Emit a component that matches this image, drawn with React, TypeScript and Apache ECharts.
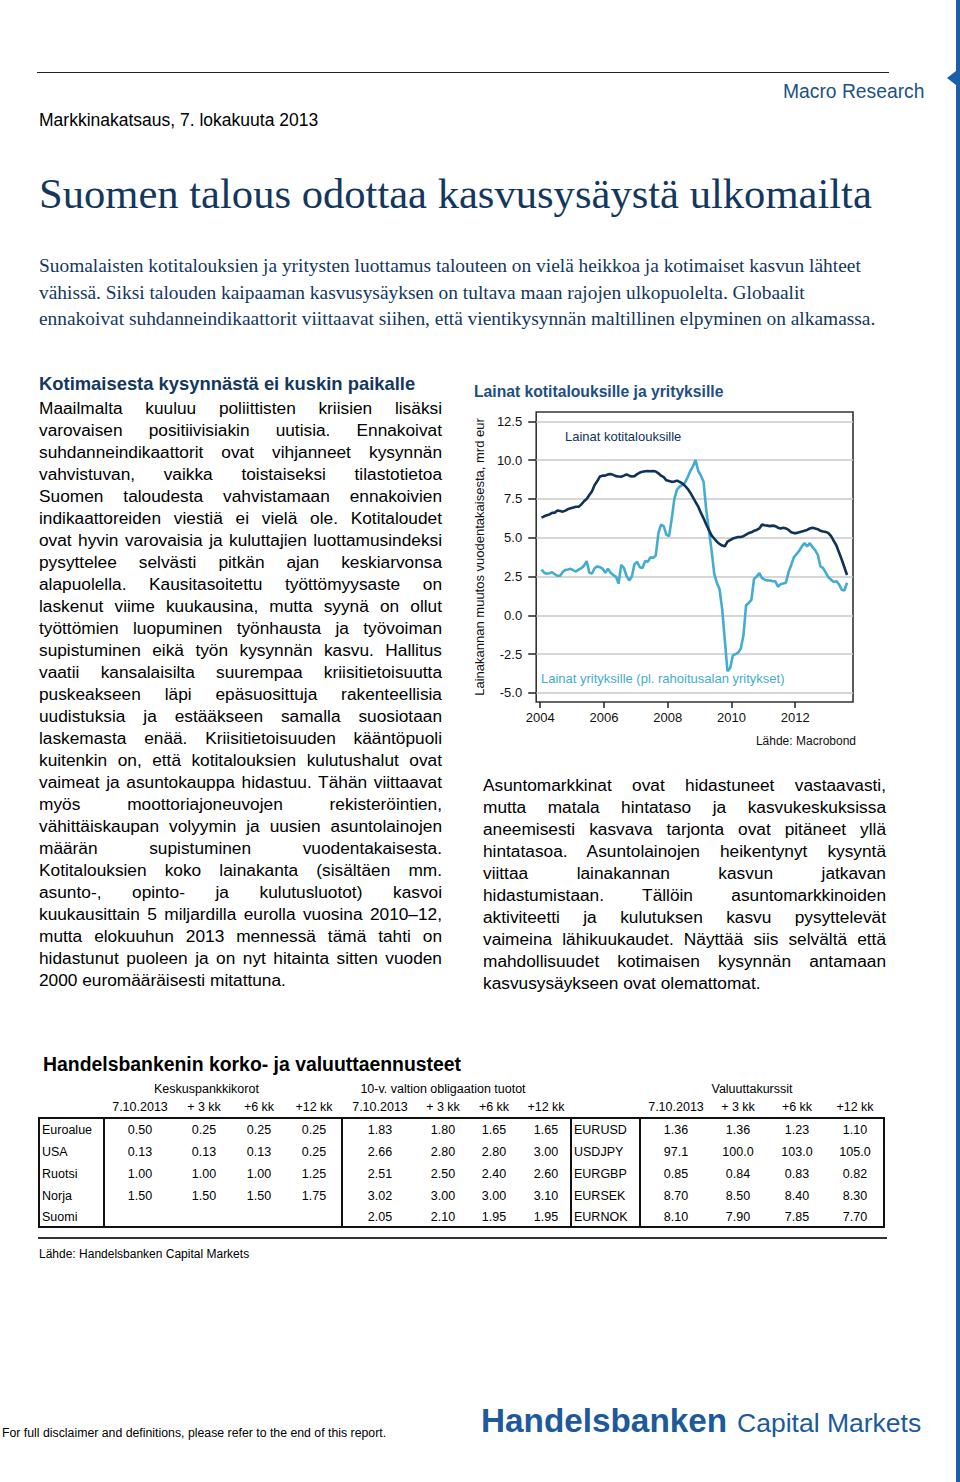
import React, { useEffect, useRef } from "react";
import * as echarts from "echarts";

// ---------- DATA ----------
const startYear = 2004;
// Monthly values, Jan 2004 – Aug 2013 (mrd eur, change from a year earlier)
const householdLoans = [
  6.3, 6.38, 6.45, 6.5, 6.6, 6.62, 6.75, 6.72, 6.68, 6.75, 6.85, 6.9,
  6.95, 7.0, 7.0, 7.15, 7.35, 7.5, 7.75, 8.0, 8.4, 8.65, 8.95, 9.0,
  9.0, 9.08, 9.1, 9.05, 8.97, 8.95, 8.93, 9.0, 9.08, 9.0, 8.95, 8.97,
  9.1, 9.2, 9.25, 9.28, 9.3, 9.28, 9.3, 9.27, 9.15, 9.0, 8.9, 8.7,
  8.65, 8.6, 8.62, 8.68, 8.6, 8.5, 8.35, 8.15, 7.9, 7.6, 7.3, 7.0,
  6.6, 6.25, 5.85, 5.5, 5.15, 4.95, 4.75, 4.6, 4.5, 4.45, 4.75, 4.85,
  4.95, 5.0, 5.05, 5.05, 5.1, 5.2, 5.3, 5.35, 5.45, 5.5, 5.6, 5.85,
  5.8, 5.78, 5.75, 5.78, 5.75, 5.65, 5.6, 5.65, 5.6, 5.5, 5.35, 5.3,
  5.3, 5.35, 5.4, 5.45, 5.5, 5.6, 5.65, 5.6, 5.55, 5.45, 5.4, 5.38,
  5.3, 5.1, 4.8, 4.5, 4.05, 3.6, 3.1, 2.6,
];
const firmLoans = [
  2.95, 2.75, 2.68, 2.72, 2.78, 2.65, 2.55, 2.55, 2.8, 2.93, 2.95, 3.0,
  2.9, 2.83, 2.95, 3.04, 3.2, 3.5, 2.75, 2.7, 3.05, 3.15, 3.1, 3.0,
  2.75, 3.0, 2.75, 2.6, 2.5, 2.05, 3.25, 3.05, 2.55, 2.25, 2.5, 3.3,
  3.45, 3.1, 3.05, 3.5, 3.45, 3.75, 3.7, 3.85, 5.3, 5.85, 5.75, 5.2,
  5.1, 6.2, 7.5, 8.1, 8.3, 8.4, 8.55, 8.9, 9.3, 9.6, 10.0, 9.3,
  9.0, 8.6, 6.8, 5.5, 4.2, 2.7, 2.1, 1.7, 0.4, -1.6, -3.6, -3.4,
  -2.6, -2.5, -2.4, -2.15, -1.3, 0.65, 0.8, 1.0, 2.35, 2.5, 2.72, 2.4,
  2.3, 2.25, 2.25, 2.2, 2.2, 1.85, 2.0, 2.05, 2.1, 2.8, 3.25, 3.75,
  3.95, 4.15, 4.45, 4.65, 4.45, 4.65, 4.4, 4.2, 3.9, 3.15, 3.05, 2.75,
  2.45, 2.3, 2.15, 2.2, 2.0, 1.65, 1.6, 2.1,
];
const yearTicks = [2004, 2006, 2008, 2010, 2012];
const valueTicks = [-5, -2.5, 0, 2.5, 5, 7.5, 10, 12.5];

const policyRegions = ["Euroalue", "USA", "Ruotsi", "Norja", "Suomi"];
const policyRates: (number[] | null)[] = [
  [0.5, 0.25, 0.25, 0.25],
  [0.13, 0.13, 0.13, 0.25],
  [1.0, 1.0, 1.0, 1.25],
  [1.5, 1.5, 1.5, 1.75],
  null,
];
const bondYields = [
  [1.83, 1.8, 1.65, 1.65],
  [2.66, 2.8, 2.8, 3.0],
  [2.51, 2.5, 2.4, 2.6],
  [3.02, 3.0, 3.0, 3.1],
  [2.05, 2.1, 1.95, 1.95],
];
const fxPairs = ["EURUSD", "USDJPY", "EURGBP", "EURSEK", "EURNOK"];
const fxRates = [
  [1.36, 1.36, 1.23, 1.1],
  [97.1, 100.0, 103.0, 105.0],
  [0.85, 0.84, 0.83, 0.82],
  [8.7, 8.5, 8.4, 8.3],
  [8.1, 7.9, 7.85, 7.7],
];
const horizonHeaders = ["7.10.2013", "+ 3 kk", "+6 kk", "+12 kk"];

const leftLines = [
  "Maailmalta kuuluu poliittisten kriisien lisäksi",
  "varovaisen positiivisiakin uutisia. Ennakoivat",
  "suhdanneindikaattorit ovat vihjanneet kysynnän",
  "vahvistuvan, vaikka toistaiseksi tilastotietoa",
  "Suomen taloudesta vahvistamaan ennakoivien",
  "indikaattoreiden viestiä ei vielä ole. Kotitaloudet",
  "ovat hyvin varovaisia ja kuluttajien luottamusindeksi",
  "pysyttelee selvästi pitkän ajan keskiarvonsa",
  "alapuolella. Kausitasoitettu työttömyysaste on",
  "laskenut viime kuukausina, mutta syynä on ollut",
  "työttömien luopuminen työnhausta ja työvoiman",
  "supistuminen eikä työn kysynnän kasvu. Hallitus",
  "vaatii kansalaisilta suurempaa kriisitietoisuutta",
  "puskeakseen läpi epäsuosittuja rakenteellisia",
  "uudistuksia ja estääkseen samalla suosiotaan",
  "laskemasta enää. Kriisitietoisuuden kääntöpuoli",
  "kuitenkin on, että kotitalouksien kulutushalut ovat",
  "vaimeat ja asuntokauppa hidastuu. Tähän viittaavat",
  "myös moottoriajoneuvojen rekisteröintien,",
  "vähittäiskaupan volyymin ja uusien asuntolainojen",
  "määrän supistuminen vuodentakaisesta.",
  "Kotitalouksien koko lainakanta (sisältäen mm.",
  "asunto-, opinto- ja kulutusluotot) kasvoi",
  "kuukausittain 5 miljardilla eurolla vuosina 2010–12,",
  "mutta elokuuhun 2013 mennessä tämä tahti on",
  "hidastunut puoleen ja on nyt hitainta sitten vuoden",
  "2000 euromääräisesti mitattuna.",
];
const rightLines = [
  "Asuntomarkkinat ovat hidastuneet vastaavasti,",
  "mutta matala hintataso ja kasvukeskuksissa",
  "aneemisesti kasvava tarjonta ovat pitäneet yllä",
  "hintatasoa. Asuntolainojen heikentynyt kysyntä",
  "viittaa lainakannan kasvun jatkavan",
  "hidastumistaan. Tällöin asuntomarkkinoiden",
  "aktiviteetti ja kulutuksen kasvu pysyttelevät",
  "vaimeina lähikuukaudet. Näyttää siis selvältä että",
  "mahdollisuudet kotimaisen kysynnän antamaan",
  "kasvusysäykseen ovat olemattomat.",
];
const introLines = [
  "Suomalaisten kotitalouksien ja yritysten luottamus talouteen on vielä heikkoa ja kotimaiset kasvun lähteet",
  "vähissä. Siksi talouden kaipaaman kasvusysäyksen on tultava maan rajojen ulkopuolelta. Globaalit",
  "ennakoivat suhdanneindikaattorit viittaavat siihen, että vientikysynnän maltillinen elpyminen on alkamassa.",
];

// ---------- STYLE ----------
const NAVY = "#14375e";
const DARK_LINE = "#0f3358";
const LIGHT_LINE = "#45acd0";
const BRAND = "#1c5a9c";
const SANS = "'Liberation Sans', Arial, Helvetica, sans-serif";
const SERIF = "'Liberation Serif', 'Times New Roman', serif";

const toX = (i: number) => startYear + (i + 0.5) / 12;

function LoanChart() {
  const ref = useRef<HTMLDivElement>(null);
  useEffect(() => {
    if (!ref.current) return;
    const chart = echarts.init(ref.current, undefined, { renderer: "svg" });
    chart.setOption({
      animation: false,
      title: {
        text: "Lainat kotitalouksille ja yrityksille",
        left: 9,
        top: 8,
        padding: 0,
        textStyle: { fontFamily: SANS, fontSize: 15.7, fontWeight: "bold", color: "#1d4f80" },
      },
      grid: {
        left: 70,
        top: 37,
        right: 12,
        bottom: 53,
        show: true,
        borderColor: "#333",
        borderWidth: 1.6,
        backgroundColor: "transparent",
      },
      xAxis: {
        type: "value",
        min: 2003.875,
        max: 2013.8125,
        axisLine: { show: false, onZero: false },
        axisTick: {
          show: true,
          inside: false,
          length: 6,
          customValues: yearTicks,
          lineStyle: { color: "#222", width: 1.5 },
        },
        axisLabel: {
          customValues: yearTicks,
          formatter: (v: number) => String(Math.round(v)),
          fontFamily: SANS,
          fontSize: 13,
          color: "#111",
          margin: 9,
        },
        splitLine: { show: false },
      },
      yAxis: {
        type: "value",
        min: -5.58,
        max: 13.1,
        name: "Lainakannan muutos vuodentakaisesta, mrd eur",
        nameLocation: "middle",
        nameRotate: 90,
        nameGap: 41,
        nameTextStyle: { fontFamily: SANS, fontSize: 13, color: "#111" },
        axisLine: { show: false, onZero: false },
        axisTick: {
          show: true,
          inside: false,
          length: 8,
          customValues: valueTicks,
          lineStyle: { color: "#222", width: 1.5 },
        },
        axisLabel: {
          customValues: valueTicks,
          formatter: (v: number) => v.toFixed(1),
          fontFamily: SANS,
          fontSize: 13,
          color: "#111",
          margin: 14,
        },
        splitLine: { show: true, lineStyle: { color: "#c8c8c8", width: 1.5 } },
      },
      series: [
        {
          name: "Lainat yrityksille (pl. rahoitusalan yritykset)",
          type: "line",
          data: firmLoans.map((v, i) => [toX(i), v]),
          showSymbol: false,
          lineStyle: { color: LIGHT_LINE, width: 2.6 },
          itemStyle: { color: LIGHT_LINE },
          z: 3,
        },
        {
          name: "Lainat kotitalouksille",
          type: "line",
          data: householdLoans.map((v, i) => [toX(i), v]),
          showSymbol: false,
          lineStyle: { color: DARK_LINE, width: 2.6 },
          itemStyle: { color: DARK_LINE },
          z: 4,
        },
      ],
      graphic: [
        {
          type: "text",
          left: 100,
          top: 55,
          style: { text: "Lainat kotitalouksille", fill: DARK_LINE, font: `13px ${SANS}` },
        },
        {
          type: "text",
          left: 76,
          top: 297,
          style: {
            text: "Lainat yrityksille (pl. rahoitusalan yritykset)",
            fill: LIGHT_LINE,
            font: `13px ${SANS}`,
          },
        },
        {
          type: "text",
          right: 9,
          top: 360,
          style: { text: "Lähde: Macrobond", fill: "#111", font: `12px ${SANS}` },
        },
      ],
    });
    return () => chart.dispose();
  }, []);
  return (
    <div
      ref={ref}
      style={{ position: "absolute", left: 465, top: 375, width: 400, height: 380 }}
    />
  );
}

function Line({
  text,
  left,
  center,
  width,
  lh,
  size,
  justify,
  style,
}: {
  text: string;
  left: number;
  center: number;
  width?: number;
  lh: number;
  size: number;
  justify?: boolean;
  style?: React.CSSProperties;
}) {
  return (
    <div
      style={{
        position: "absolute",
        left,
        top: center - lh / 2,
        width,
        height: lh,
        lineHeight: `${lh}px`,
        fontSize: size,
        fontFamily: SANS,
        color: "#000",
        whiteSpace: justify ? "normal" : "nowrap",
        textAlign: justify ? "justify" : "left",
        textAlignLast: justify ? "justify" : "left",
        ...style,
      }}
    >
      {text}
    </div>
  );
}

function Cell({ text, cx, cy, left }: { text: string; cx?: number; cy: number; left?: number }) {
  if (left !== undefined) {
    return <Line text={text} left={left} center={cy} lh={16} size={12.5} />;
  }
  return (
    <div
      style={{
        position: "absolute",
        left: (cx as number) - 50,
        width: 100,
        top: cy - 8,
        height: 16,
        lineHeight: "16px",
        fontSize: 12.5,
        fontFamily: SANS,
        textAlign: "center",
        color: "#000",
        whiteSpace: "nowrap",
      }}
    >
      {text}
    </div>
  );
}

const policyCols = [140, 204, 259, 314];
const bondCols = [380, 443, 494, 546];
const fxCols = [676, 738, 797, 855];
const rowYs = [1130, 1152, 1174, 1196, 1217];

function ForecastTable() {
  const cells: React.ReactNode[] = [];
  policyRegions.forEach((r, ri) => {
    const y = rowYs[ri];
    cells.push(<Cell key={`r${ri}`} text={r} left={42} cy={y} />);
    const pr = policyRates[ri];
    if (pr) pr.forEach((v, ci) => cells.push(<Cell key={`p${ri}${ci}`} text={v.toFixed(2)} cx={policyCols[ci]} cy={y} />));
    bondYields[ri].forEach((v, ci) => cells.push(<Cell key={`b${ri}${ci}`} text={v.toFixed(2)} cx={bondCols[ci]} cy={y} />));
    cells.push(<Cell key={`f${ri}`} text={fxPairs[ri]} left={574} cy={y} />);
    fxRates[ri].forEach((v, ci) =>
      cells.push(
        <Cell key={`x${ri}${ci}`} text={v.toFixed(fxPairs[ri] === "USDJPY" ? 1 : 2)} cx={fxCols[ci]} cy={y} />
      )
    );
  });
  const headers: React.ReactNode[] = [];
  [policyCols, bondCols, fxCols].forEach((cols, gi) =>
    cols.forEach((cx, ci) => headers.push(<Cell key={`h${gi}${ci}`} text={horizonHeaders[ci]} cx={cx} cy={1107} />))
  );
  const vline = (x: number, k: string) => (
    <div key={k} style={{ position: "absolute", left: x - 1, top: 1118, width: 2, height: 109, background: "#111" }} />
  );
  return (
    <>
      <Line
        text="Handelsbankenin korko- ja valuuttaennusteet"
        left={43}
        center={1064}
        lh={24}
        size={19.4}
        style={{ fontWeight: "bold" }}
      />
      <Cell text="Keskuspankkikorot" cx={204} cy={1089} />
      <div
        style={{
          position: "absolute",
          left: 343,
          width: 200,
          top: 1081,
          height: 16,
          lineHeight: "16px",
          fontSize: 12.5,
          fontFamily: SANS,
          textAlign: "center",
          whiteSpace: "nowrap",
        }}
      >
        10-v. valtion obligaation tuotot
      </div>
      <Cell text="Valuuttakurssit" cx={752} cy={1089} />
      {headers}
      <div
        style={{
          position: "absolute",
          left: 38,
          top: 1117,
          width: 843,
          height: 107,
          border: "2px solid #111",
        }}
      />
      {vline(104, "v1")}
      {vline(342, "v2")}
      {vline(571, "v3")}
      {vline(640, "v4")}
      {cells}
      <div style={{ position: "absolute", left: 38, top: 1237, width: 849, height: 1.5, background: "#333" }} />
      <Line text="Lähde: Handelsbanken Capital Markets" left={39} center={1254} lh={16} size={12} />
    </>
  );
}

export default function App() {
  useEffect(() => {
    document.body.style.margin = "0";
  }, []);
  return (
    <div
      style={{
        position: "absolute",
        left: 0,
        top: 0,
        width: 960,
        height: 1482,
        background: "#fff",
        overflow: "hidden",
      }}
    >
      {/* header rule */}
      <div style={{ position: "absolute", left: 37, top: 72, width: 852, height: 1, background: "#222" }} />
      <Line text="Macro Research" left={783} center={92} lh={22} size={19.3} style={{ color: "#1c5186" }} />
      <Line text="Markkinakatsaus, 7. lokakuuta 2013" left={39} center={120} lh={22} size={17.5} />
      {/* right brand bar */}
      <div style={{ position: "absolute", left: 956, top: 0, width: 4, height: 1482, background: "#1a5fa8" }} />
      <div
        style={{
          position: "absolute",
          left: 947,
          top: 71,
          width: 0,
          height: 0,
          borderTop: "7px solid transparent",
          borderBottom: "7px solid transparent",
          borderRight: "9px solid #1a5fa8",
        }}
      />
      {/* title */}
      <Line
        text="Suomen talous odottaa kasvusysäystä ulkomailta"
        left={39}
        center={194}
        lh={50}
        size={42.6}
        style={{ fontFamily: SERIF, color: NAVY }}
      />
      {introLines.map((t, i) => (
        <Line
          key={`i${i}`}
          text={t}
          left={39}
          center={266 + i * 26.5}
          lh={26}
          size={19.4}
          style={{ fontFamily: SERIF, color: NAVY }}
        />
      ))}
      <Line
        text="Kotimaisesta kysynnästä ei kuskin paikalle"
        left={39}
        center={384}
        lh={22}
        size={18.4}
        style={{ fontWeight: "bold", color: NAVY }}
      />
      {leftLines.map((t, i) => (
        <Line
          key={`l${i}`}
          text={t}
          left={39}
          center={408 + i * 22}
          width={403}
          lh={22}
          size={17.3}
          justify={i < leftLines.length - 1}
        />
      ))}
      {rightLines.map((t, i) => (
        <Line
          key={`r${i}`}
          text={t}
          left={483}
          center={785 + i * 22}
          width={403}
          lh={22}
          size={17.3}
          justify={i < rightLines.length - 1}
        />
      ))}
      <LoanChart />
      <ForecastTable />
      <Line
        text="For full disclaimer and definitions, please refer to the end of this report."
        left={2}
        center={1433}
        lh={16}
        size={12.3}
      />
      <div
        style={{
          position: "absolute",
          left: 481,
          top: 1401,
          height: 40,
          lineHeight: "40px",
          whiteSpace: "nowrap",
          fontFamily: SANS,
          color: BRAND,
        }}
      >
        <span style={{ fontSize: 33.3, fontWeight: "bold" }}>Handelsbanken</span>
        <span style={{ fontSize: 26.5, marginLeft: 10 }}>Capital Markets</span>
      </div>
    </div>
  );
}
